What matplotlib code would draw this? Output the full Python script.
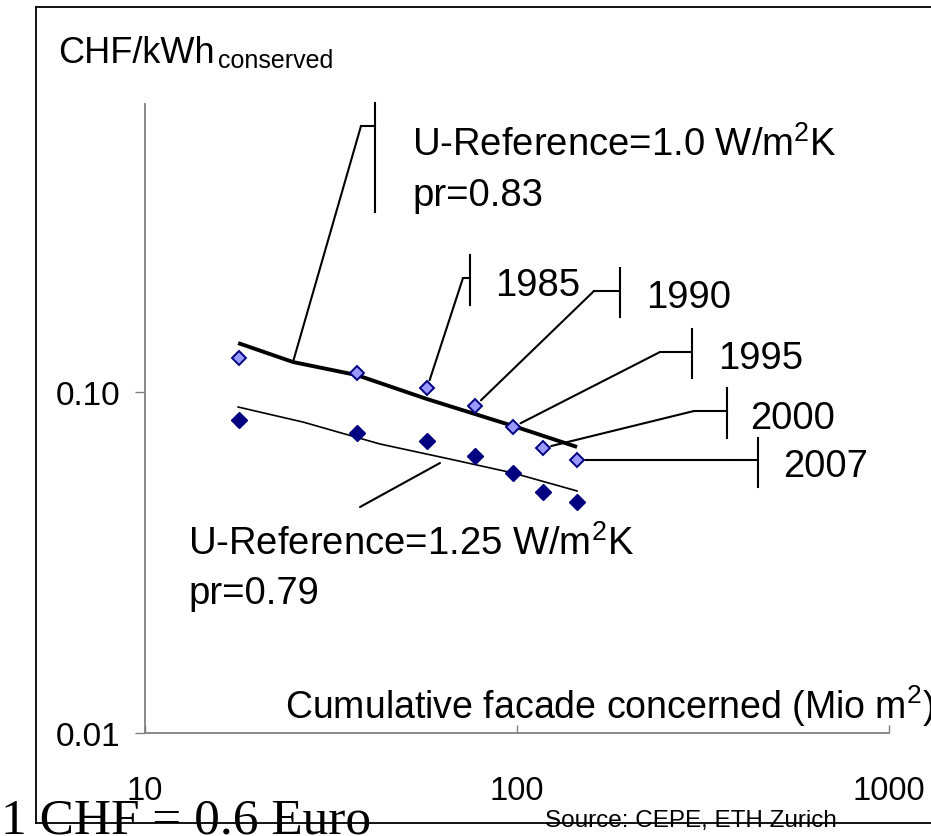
import matplotlib
matplotlib.use("Agg")
import matplotlib.pyplot as plt
from matplotlib.lines import Line2D

W, H = 931, 837

# cumulative facade (Mio m2) for the years 1985..2007
facade = [17.9, 37.1, 57.3, 77.1, 97.6, 117.5, 145.0]
years = ["1985", "1990", "1995", "2000", "2007"]
# CHF/kWh conserved
cost_u10 = [0.1255, 0.1135, 0.1025, 0.0908, 0.0788, 0.0684, 0.0631]
cost_u125 = [0.0826, 0.0757, 0.0717, 0.0648, 0.0578, 0.0508, 0.0475]

# fitted curves as drawn in the original
fit_x10 = [17.8, 25.0, 37.1, 57.3, 97.6, 145.0]
fit_y10 = [0.1389, 0.1222, 0.1119, 0.0952, 0.0794, 0.0689]
fit_x125 = [17.8, 26.6, 42.8, 66.0, 97.6, 145.0]
fit_y125 = [0.0902, 0.0815, 0.0703, 0.0635, 0.0578, 0.0512]

xticks = [10, 100, 1000]
xticklabels = ["10", "100", "1000"]
yticks = [0.01, 0.1]
yticklabels = ["0.01", "0.10"]

plt.rcParams['font.family'] = ['Liberation Sans', 'DejaVu Sans']
plt.rcParams['mathtext.fontset'] = 'custom'
plt.rcParams['mathtext.rm'] = 'Liberation Sans'
plt.rcParams['mathtext.it'] = 'Liberation Sans'
plt.rcParams['mathtext.default'] = 'regular'


def fx(px):
    return px / W


def fy(py):
    return 1 - py / H


def fp(px, py):
    return (fx(px), fy(py))


fig = plt.figure(figsize=(W / 100, H / 100), dpi=100)
ax = fig.add_axes([fx(145), fy(734), fx(889) - fx(145), fy(105) - fy(734)])

ax.set_xscale('log')
ax.set_yscale('log')
ax.set_xlim(10, 1000)
ax.set_ylim(0.01, 0.697)

ax.plot(fit_x10, fit_y10, color='black', lw=2.8, solid_capstyle='butt', zorder=2)
ax.plot(fit_x125, fit_y125, color='black', lw=1.2, zorder=2)
ax.plot(facade, cost_u10, ls='none', marker='D', ms=7.2, mfc='#9999FF',
        mec='#000080', mew=1.4, zorder=3)
ax.plot(facade, cost_u125, ls='none', marker='D', ms=7.8, mfc='#000080',
        mec='#000080', mew=1.0, zorder=3)

for s in ['top', 'right']:
    ax.spines[s].set_visible(False)
for s in ['left', 'bottom']:
    ax.spines[s].set_color('#808080')
    ax.spines[s].set_linewidth(1.3)

ax.set_xticks(xticks, xticklabels)
ax.set_yticks(yticks, yticklabels)
ax.minorticks_off()
ax.tick_params(axis='x', direction='in', length=6, width=1, color='#808080',
               pad=30, labelsize=23.5)
ax.tick_params(axis='y', direction='out', length=7, width=1, color='#808080',
               pad=11, labelsize=24)

# axis titles
fig.text(fx(58), fy(63), "CHF/kWh", fontsize=26, va='baseline')
fig.text(fx(218), fy(68), "conserved", fontsize=18, va='baseline')
fig.text(fx(285), fy(719), "Cumulative facade concerned (Mio m$^2$)",
         fontsize=27, va='baseline')


def bracket(x_bar, y0, y1, x_stub, y_stub):
    fig.add_artist(Line2D([fx(x_bar)] * 2, [fy(y0), fy(y1)], color='black', lw=1.5))
    fig.add_artist(Line2D([fx(x_stub), fx(x_bar)], [fy(y_stub)] * 2,
                          color='black', lw=1.5))


def leader(xy, start_px, coords='data', shrink=4):
    ax.annotate("", xy=xy, xycoords=coords, xytext=fp(*start_px),
                textcoords='figure fraction', annotation_clip=False,
                arrowprops=dict(arrowstyle='-', color='black', lw=1.5,
                                shrinkA=0, shrinkB=shrink))


# U-Reference 1.0
bracket(375, 104, 213, 361, 127)
leader(fp(293, 363), (361, 127), coords='figure fraction', shrink=0)
fig.text(fx(412), fy(156), "U-Reference=1.0 W/m$^2$K", fontsize=27.5, va='baseline')
fig.text(fx(412), fy(206), "pr=0.83", fontsize=27.5, va='baseline')

# U-Reference 1.25
leader(fp(440, 464), (360, 508), coords='figure fraction', shrink=0)
fig.text(fx(188), fy(555), "U-Reference=1.25 W/m$^2$K", fontsize=27.5, va='baseline')
fig.text(fx(188), fy(604), "pr=0.79", fontsize=27.5, va='baseline')

# year labels: bar x, bar top, bar bottom, stub start x, stub y, text x, baseline
year_boxes = [
    (470, 256, 306, 463, 279, 495, 296),
    (620, 269, 318, 594, 292, 646, 308),
    (692, 330, 379, 660, 353, 718, 369),
    (727, 389, 439, 694, 412, 750, 429),
    (758, 439, 488, 732, 461, 783, 477),
]
for i, (yr, box) in enumerate(zip(years, year_boxes)):
    xb, y0, y1, xs, ys, xt, yt = box
    bracket(xb, y0, y1, xs, ys)
    k = i + 2
    leader((facade[k], cost_u10[k]), (xs, ys), shrink=6)
    fig.text(fx(xt), fy(yt), yr, fontsize=27.5, va='baseline')

# frame around the slide
fig.add_artist(Line2D([fx(36), fx(36)], [fy(8), fy(824)], color='black', lw=1.3))
fig.add_artist(Line2D([fx(36), 1.0], [fy(8), fy(8)], color='black', lw=1.3))
fig.add_artist(Line2D([fx(36), 1.0], [fy(824), fy(824)], color='black', lw=1.3))

fig.text(fx(545), fy(827), "Source: CEPE, ETH Zurich", fontsize=17.5, va='baseline')
fig.text(fx(1), fy(834), "1 CHF = 0.6 Euro", fontsize=37, va='baseline',
         family='Liberation Serif')

fig.savefig("out.png", dpi=100)
